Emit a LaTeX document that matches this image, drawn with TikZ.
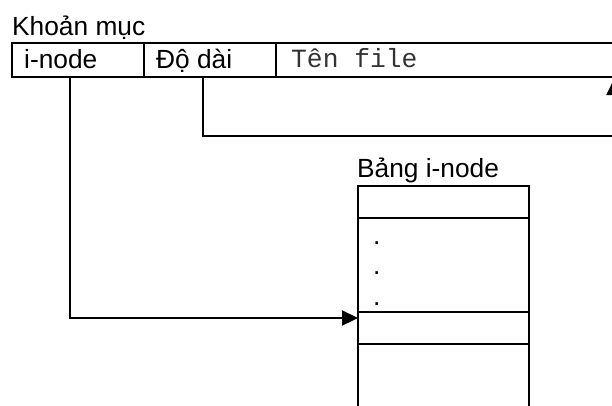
\documentclass[tikz,border=0pt]{standalone}
\usepackage{fontspec}
\setmainfont{Liberation Sans}
\newfontfamily\courierf{Liberation Mono}
\usetikzlibrary{arrows.meta}
\begin{document}
\begin{tikzpicture}[x=1pt,y=-1pt,
  lbl/.style={anchor=base west, inner sep=0pt, font=\fontsize{26.3}{30}\selectfont},
  monolbl/.style={anchor=base west, inner sep=0pt, text=black!80, font=\courierf\fontsize{26.3}{30}\selectfont},
  cell/.style={draw, line width=2.2pt, inner sep=0pt, outer sep=0pt, rectangle},
  conn/.style={line width=2.2pt, -{Triangle[length=16pt,width=15pt]}}]
\useasboundingbox (0,0) rectangle (612,405);
\clip (0,0) rectangle (612,405);
% directory entry
\node[lbl] (title) at (12,35) {Khoản mục};
\node[cell, minimum width=132pt, minimum height=34pt] (inode) at (78,60) {};
\node[cell, minimum width=132pt, minimum height=34pt] (len) at (210,60) {};
\node[cell, minimum width=374pt, minimum height=34pt] (fname) at (463,60) {};
\node[lbl] (tinode) at (24,68) {i-node};
\node[lbl] (tlen) at (156,68) {Độ dài};
\node[monolbl] (tname) at (291,67) {Tên file};
% i-node table
\node[lbl] (tabtitle) at (357,177) {Bảng i-node};
\node[cell, minimum width=171pt, minimum height=32pt] (row1) at (443.5,202) {};
\node[cell, minimum width=171pt, minimum height=94pt] (row2) at (443.5,265) {};
\node[cell, minimum width=171pt, minimum height=32pt] (row3) at (443.5,328) {};
\node[cell, minimum width=171pt, minimum height=86pt] (row4) at (443.5,387) {};
\node[lbl] (d1) at (373,244) {.};
\node[lbl] (d2) at (373,274) {.};
\node[lbl] (d3) at (373,305) {.};
% connectors
\draw[conn] ([xshift=-8pt]inode.south) |- ([yshift=-6pt]row3.north west);
\coordinate (b2) at (614,136);
\coordinate (t2) at (614,79);
\draw[conn] ([xshift=-7pt]len.south) |- (b2) -- (t2);
\end{tikzpicture}
\end{document}
